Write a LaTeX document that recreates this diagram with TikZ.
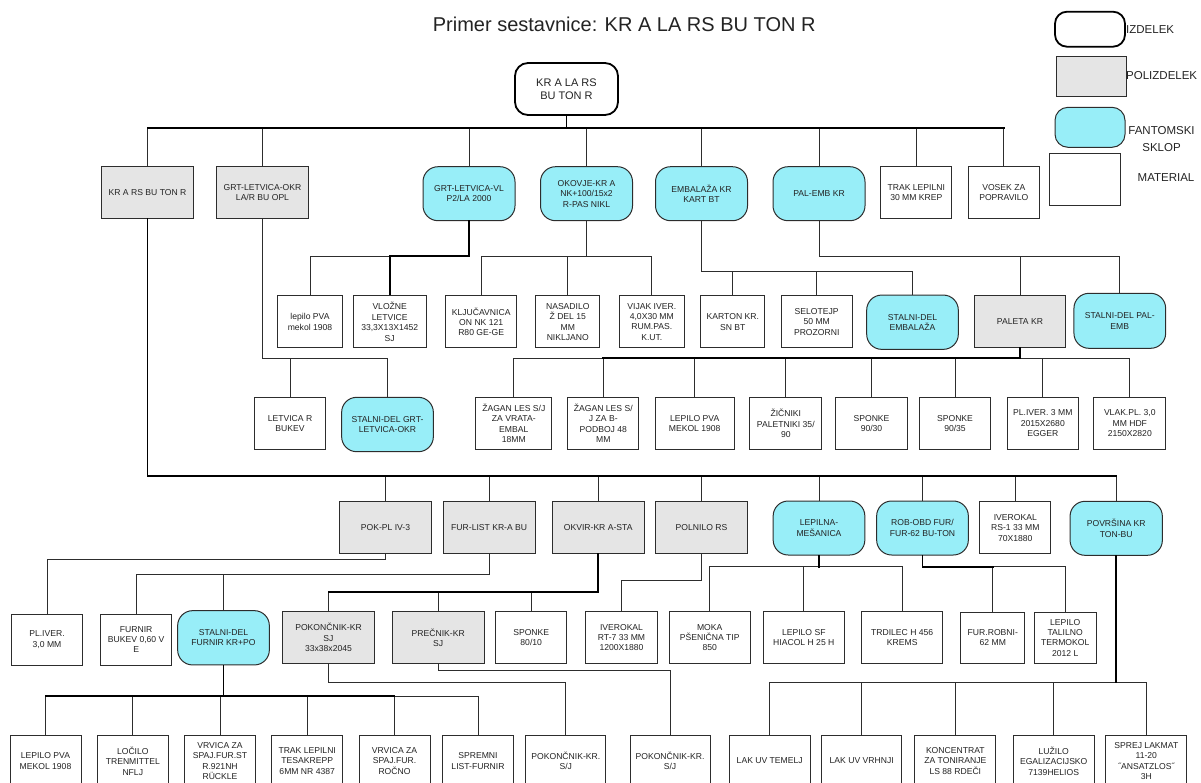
\documentclass[tikz,border=0pt]{standalone}
\usepackage{fontspec}
\setmainfont{Liberation Sans}
\definecolor{phfill}{RGB}{152,238,248}
\definecolor{semifill}{RGB}{229,229,229}
\definecolor{inkline}{RGB}{45,45,45}
\definecolor{inktext}{RGB}{35,35,35}
\newcommand\boxfont{\fontsize{8.6}{10.4}\selectfont}
\newcommand\legendfont{\fontsize{11.5}{16.7}\selectfont}
\begin{document}
\begin{tikzpicture}[x=1pt,y=-1pt,
  basebox/.style={draw=inkline, line width=1pt, align=center, inner sep=1pt,
    font=\boxfont, text=inktext, minimum height=52pt},
  matbox/.style={basebox, fill=white},
  semibox/.style={basebox, fill=semifill},
  phbox/.style={basebox, fill=phfill, rounded corners=15pt, minimum height=54pt},
  prodbox/.style={basebox, draw=black, line width=1.8pt, rounded corners=13pt,
    font=\fontsize{11}{13.3}\selectfont},
  bw/.style={minimum width=#1pt},
  bh/.style={minimum height=#1pt},
  legendtxt/.style={font=\legendfont, text=inktext, inner sep=0pt, align=center},
  wire/.style={draw=inkline, line width=1pt},
  trunk/.style={draw=black, line width=1.8pt}]
\useasboundingbox (0,0) rectangle (1201,782);
\clip (0,0) rectangle (1201,782);

% title
\node[font=\fontsize{20}{24}\selectfont, text=inktext, anchor=base, inner sep=0pt]
  (title) at (624.2,31.7) {Primer sestavnice: KR A LA RS BU TON R};

% legend
\node[prodbox, bw=70, bh=35, rounded corners=12pt] (lgprod) at (1090,29.2) {};
\node[legendtxt, anchor=west] (lgprodt) at (1126,29.5) {IZDELEK};
\node[semibox, bw=70, bh=40] (lgsemi) at (1091,76.7) {};
\node[legendtxt, anchor=west] (lgsemit) at (1126,75.5) {POLIZDELEK};
\node[phbox, bw=70, bh=40, rounded corners=13pt] (lgph) at (1090,127.3) {};
\node[legendtxt] (lgpht) at (1161.5,139) {FANTOMSKI\\SKLOP};
\node[matbox, bw=70.7, bh=51.7] (lgmat) at (1085.3,179.2) {};
\node[legendtxt, anchor=west] (lgmatt) at (1137.5,177.5) {MATERIAL};

% product
\node[prodbox, bw=103] (root) at (566.5,89) {KR A LA RS\\BU TON R};

% first level
\node[semibox, bw=91.6] (k1) at (147.5,192.5) {KR A RS BU TON R};
\node[semibox, bw=91.6] (k2) at (262.5,192.5) {GRT-LETVICA-OKR\\LA/R BU OPL};
\node[phbox, bw=92] (k3) at (469,193.7) {GRT-LETVICA-VL\\P2/LA 2000};
\node[phbox, bw=92] (k4) at (586.5,193.7) {OKOVJE-KR A\\NK+100/15x2\\R-PAS NIKL};
\node[phbox, bw=92] (k5) at (701.5,193.7) {EMBALAŽA KR\\KART BT};
\node[phbox, bw=92] (k6) at (819,193.7) {PAL-EMB KR};
\node[matbox, bw=70.7] (k7) at (916.3,192.5) {TRAK LEPILNI\\30 MM KREP};
\node[matbox, bw=71] (k8) at (1003.8,192.5) {VOSEK ZA\\POPRAVILO};

% second level, upper row
\node[matbox, bw=65] (a1) at (310,321.85) {lepilo PVA\\mekol 1908};
\node[matbox, bw=72.7] (a2) at (389.7,321.85) {VLOŽNE\\LETVICE\\33,3X13X1452\\SJ};
\node[matbox, bw=71] (a3) at (481.2,321.85) {KLJUČAVNICA\\ON NK 121\\R80 GE-GE};
\node[matbox, bw=64.3] (a4) at (567.8,321.85) {NASADILO\\Ž DEL 15\\MM\\NIKLJANO};
\node[matbox, bw=65] (a5) at (651.8,321.85) {VIJAK IVER.\\4,0X30 MM\\RUM.PAS.\\K.UT.};
\node[matbox, bw=64.3] (a6) at (732.8,321.85) {KARTON KR.\\SN BT};
\node[matbox, bw=71.3] (a7) at (816.7,321.85) {SELOTEJP\\50 MM\\PROZORNI};
\node[phbox, bw=91.6, bh=54.3] (a8) at (912.5,322.2) {STALNI-DEL\\EMBALAŽA};
\node[semibox, bw=91.7] (a9) at (1020,321.85) {PALETA KR};
\node[phbox, bw=91.7, bh=55] (a10) at (1119.8,320.8) {STALNI-DEL PAL-\\EMB};

% second level, lower row
\node[matbox, bw=71.7] (b1) at (290,423.3) {LETVICA R\\BUKEV};
\node[phbox, bw=91.7, bh=54.4] (b2) at (387.5,424.5) {STALNI-DEL GRT-\\LETVICA-OKR};
\node[matbox, bw=75.7] (b3) at (513.8,423.3) {ŽAGAN LES S/J\\ZA VRATA-\\EMBAL\\18MM};
\node[matbox, bw=71.3] (b4) at (603.3,423.3) {ŽAGAN LES S/\\J ZA B-\\PODBOJ 48\\MM};
\node[matbox, bw=79.3] (b5) at (694.7,423.3) {LEPILO PVA\\MEKOL 1908};
\node[matbox, bw=71.7] (b6) at (785.8,423.3) {ŽIČNIKI\\PALETNIKI 35/\\90};
\node[matbox, bw=71.7] (b7) at (871.5,423.3) {SPONKE\\90/30};
\node[matbox, bw=71.3] (b8) at (955,423.3) {SPONKE\\90/35};
\node[matbox, bw=71] (b9) at (1042.8,423.3) {PL.IVER. 3 MM\\2015X2680\\EGGER};
\node[matbox, bw=71.7] (b10) at (1129.8,423.3) {VLAK.PL. 3,0\\MM HDF\\2150X2820};

% third level
\node[semibox, bw=92.3] (c1) at (385.5,527.8) {POK-PL IV-3};
\node[semibox, bw=91.7] (c2) at (489.2,527.8) {FUR-LIST KR-A BU};
\node[semibox, bw=91.7] (c3) at (598.2,527.8) {OKVIR-KR A-STA};
\node[semibox, bw=91.7] (c4) at (701.5,527.8) {POLNILO RS};
\node[phbox, bw=91.7] (c5) at (819,528) {LEPILNA-\\MEŠANICA};
\node[phbox, bw=91.7] (c6) at (922.5,528) {ROB-OBD FUR/\\FUR-62 BU-TON};
\node[matbox, bw=70.7] (c7) at (1015.3,527.8) {IVEROKAL\\RS-1 33 MM\\70X1880};
\node[phbox, bw=92.3] (c8) at (1116.2,528.3) {POVRŠINA KR\\TON-BU};

% fourth level
\node[matbox, bw=70.7, bh=51] (d1) at (47,639.5) {PL.IVER.\\3,0 MM};
\node[matbox, bw=71, bh=51] (d2) at (136.2,639.5) {FURNIR\\BUKEV 0,60 V\\E};
\node[phbox, bw=91.7, bh=54.3] (d3) at (223.5,637.8) {STALNI-DEL\\FURNIR KR+PO};
\node[semibox, bw=91.7, bh=51.6] (d4) at (328.5,637.5) {POKONČNIK-KR\\SJ\\33x38x2045};
\node[semibox, bw=91.7, bh=51.6] (d5) at (438.2,637.5) {PREČNIK-KR\\SJ};
\node[matbox, bw=71, bh=51.6] (d6) at (531.2,637.5) {SPONKE\\80/10};
\node[matbox, bw=71.7, bh=51.6] (d7) at (621.5,637.5) {IVEROKAL\\RT-7 33 MM\\1200X1880};
\node[matbox, bw=80.7, bh=51.6] (d8) at (709.7,637.5) {MOKA\\PŠENIČNA TIP\\850};
\node[matbox, bw=81, bh=51.6] (d9) at (803.8,637.5) {LEPILO SF\\HIACOL H 25 H};
\node[matbox, bw=81, bh=51.6] (d10) at (902.2,637.5) {TRDILEC H 456\\KREMS};
\node[matbox, bw=64.3, bh=51] (d11) at (992.8,637.8) {FUR.ROBNI-\\62 MM};
\node[matbox, bw=61.7, bh=51] (d12) at (1065.2,637.8) {LEPILO\\TALILNO\\TERMOKOL\\2012 L};

% fifth level (runs past the lower edge)
\node[matbox, bw=71] (e1) at (45.5,761) {LEPILO PVA\\MEKOL 1908};
\node[matbox, bw=71] (e2) at (132.8,761) {LOČILO\\TRENMITTEL\\NFLJ};
\node[matbox, bw=71.3] (e3) at (220,761) {VRVICA ZA\\SPAJ.FUR.ST\\R.921NH\\RÜCKLE};
\node[matbox, bw=71] (e4) at (307.2,761) {TRAK LEPILNI\\TESAKREPP\\6MM NR 4387};
\node[matbox, bw=71] (e5) at (394.5,761) {VRVICA ZA\\SPAJ.FUR.\\ROČNO};
\node[matbox, bw=70.7] (e6) at (478,761) {SPREMNI\\LIST-FURNIR};
\node[matbox, bw=80.3] (e7) at (565.8,761) {POKONČNIK-KR.\\S/J};
\node[matbox, bw=80] (e8) at (670,761) {POKONČNIK-KR.\\S/J};
\node[matbox, bw=80.7] (e9) at (769.7,761) {LAK UV TEMELJ};
\node[matbox, bw=80] (e10) at (861.7,761) {LAK UV VRHNJI};
\node[matbox, bw=80.7] (e11) at (955.3,761) {KONCENTRAT\\ZA TONIRANJE\\LS 88 RDEČI};
\node[matbox, bw=80.7] (e12) at (1053.7,761) {LUŽILO\\EGALIZACIJSKO\\7139HELIOS};
\node[matbox, bw=80.7] (e13) at (1146.3,761) {SPREJ LAKMAT\\11-20\\˝ANSATZLOS˝\\3H};

% bus levels
\coordinate (broot) at (0,128);
\coordinate (bk1) at (0,476.3);
\coordinate (bk2) at (0,358.3);
\coordinate (bk3) at (0,256.3);
\coordinate (bk4) at (0,256.7);
\coordinate (bk5) at (0,271.7);
\coordinate (bk6) at (0,256.7);
\coordinate (ba9) at (0,358.3);
\coordinate (bc1) at (0,559.3);
\coordinate (bc2) at (0,574.3);
\coordinate (bc3) at (0,592.3);
\coordinate (bc4) at (0,580.7);
\coordinate (bc5) at (0,566.7);
\coordinate (bc6) at (0,566.7);
\coordinate (bc8) at (0,682.3);
\coordinate (bd3) at (0,696);
\coordinate (bd4) at (0,682.7);
\coordinate (bd5) at (0,670);

% connectors, parent to each child
\foreach \p/\b/\kids in {root/broot/{k1,k2,k3,k4,k5,k6,k7,k8},
    k1/bk1/{c1,c2,c3,c4,c5,c6,c7,c8},
    k2/bk2/{b1,b2}, k3/bk3/{a1,a2}, k4/bk4/{a3,a4,a5},
    k5/bk5/{a6,a7,a8}, k6/bk6/{a9,a10},
    a9/ba9/{b3,b4,b5,b6,b7,b8,b9,b10},
    c1/bc1/{d1}, c2/bc2/{d2,d3}, c3/bc3/{d4,d5,d6}, c4/bc4/{d7},
    c5/bc5/{d8,d9,d10}, c6/bc6/{d11,d12},
    c8/bc8/{e9,e10,e11,e12,e13},
    d3/bd3/{e1,e2,e3,e4,e5,e6}, d4/bd4/{e7}, d5/bd5/{e8}}
  {\foreach \c in \kids
    {\draw[wire] (\p.south) |- (\c.north |- \b) -- (\c.north);}}

% heavier trunks: parent stub and the main run of its bus
\foreach \p/\b/\lft/\rgt in {root/broot/k1/k8, k1/bk1/k1/c8, k3/bk3/a2/k3,
    a9/ba9/b4/a9, c3/bc3/d4/c3, c5/bc5/c5/c5, c6/bc6/c6/d11,
    c8/bc8/c8/c8, d3/bd3/e1/e5}
  {\draw[trunk, line cap=rect] (\p.south) -- (\p.south |- \b);
   \draw[trunk, line cap=rect] (\lft.north |- \b) -- (\rgt.north |- \b);}
\draw[trunk] (a2.north |- bk3) -- (a2.north);
\end{tikzpicture}
\end{document}
